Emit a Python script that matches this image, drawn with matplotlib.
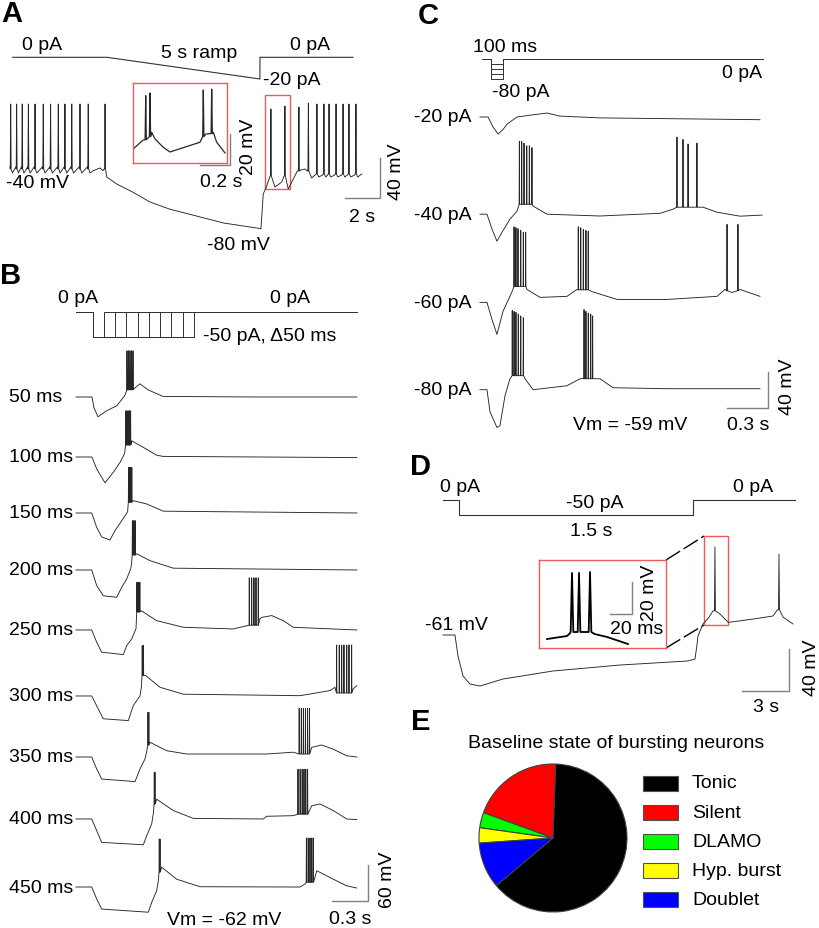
import numpy as np
import matplotlib
matplotlib.use('Agg')
import matplotlib.pyplot as plt
from matplotlib.patches import Rectangle

plt.rcParams['font.family'] = ['Liberation Sans', 'DejaVu Sans']
plt.rcParams['font.size'] = 14

# ---------------- data (s, mV, pA) ----------------
# A: 5 s ramp, tonic firing -> rebound
A_stim_t = [0, 3.08, 8.08, 8.08, 11.12]
A_stim_i = [0, 0, -20, 0, 0]
A_left_spikes = [0.04, 0.38, 0.70, 1.05, 1.43, 1.90, 2.32, 2.76, 3.14, 3.53, 4.0, 4.47]
A_ramp = [(4.57, -44), (4.76, -41.7), (5.14, -39), (5.31, -41.7), (5.38, -40),
          (5.53, -48), (6.1, -55), (7.0, -63), (8.0, -73), (9.1, -80), (10.86, -88),
          (12.2, -94), (13.7, -98), (14.29, -99.5), (14.34, -100), (14.47, -65),
          (14.67, -57), (14.86, -47), (15.14, -58), (15.53, -53), (15.66, -47),
          (15.9, -60), (16.19, -50), (16.42, -42), (16.61, -41), (16.86, -40),
          (16.99, -42), (17.24, -49)]
A_single = [5.43, 14.91, 15.71, 16.51, 17.05]
A_single_peak = [25, 20, 23, 22, 26]
A_single_lo = [-40, -47, -47, -42, -42]
A_right_spikes = [17.54, 17.94, 18.23, 18.63, 19.03, 19.37, 19.77]
A_inset = [(0.0067, 9.5), (0.0667, 14.8), (0.1, 16.1), (0.1247, 19.8), (0.1467, 15.5),
           (0.202, 10.1), (0.2467, 7.1), (0.4467, 13.4), (0.46, 16.1), (0.4867, 18.7),
           (0.5353, 19.8), (0.558, 13.4), (0.6133, 6.5)]
A_inset_spikes = [([0.0847], 43.4, 15), ([0.1133], 45.2, 17),
                  ([0.4687], 47.1, 17), ([0.5247], 47.7, 19)]

# B: -50 pA steps of increasing duration
B_durations = [0.05, 0.10, 0.15, 0.20, 0.25, 0.30, 0.35, 0.40, 0.45]
B_labels = ['50 ms', '100 ms', '150 ms', '200 ms', '250 ms', '300 ms', '350 ms', '400 ms', '450 ms']
B_offsets = [0, -100, -193.3, -288.3, -388.3, -498.3, -600, -703.3, -816.7]
B_paths = [
    [(0, 0), (0.133, 0), (0.150, -18), (0.183, -33), (0.255, -23), (0.34, -14.5), (0.405, 2),
     (0.418, 8), (0.485, 14), (0.533, 22), (0.6, 12), (0.725, 1), (1.5, 0), (2.34, 0)],
    [(0, 0), (0.133, 0), (0.1725, -20), (0.2417, -43), (0.311, -25.5), (0.367, -9), (0.405, 6),
     (0.464, 27), (0.561, 16), (0.6725, 3), (0.725, 1), (2.34, -1)],
    [(0, 0), (0.131, 0), (0.1725, -24), (0.214, -40), (0.283, -45), (0.325, -29.5), (0.381, -13),
     (0.43, 2), (0.4775, 20.5), (0.589, 15), (0.7275, 3), (2.34, 0)],
    [(0, 0), (0.131, 0), (0.1725, -26), (0.2275, -43), (0.339, -45.5), (0.381, -29), (0.4225, -15),
     (0.456, 2), (0.463, 10), (0.506, 27), (0.617, 15.5), (0.811, 3), (2.34, 0)],
    [(0, 0), (0.131, 0), (0.1725, -20.5), (0.214, -37), (0.394, -41), (0.4225, -26), (0.464, -15),
     (0.5, 2), (0.545, 32), (0.6725, 15.5), (0.894, 4.5), (1.311, 1.7), (1.4225, 7), (1.53, 18),
     (1.5475, 21), (1.631, 24), (1.7275, 15.5), (1.811, 4.5), (2.34, 0)],
    [(0, 0), (0.131, 0), (0.186, -21.7), (0.2275, -38), (0.436, -41), (0.4775, -16), (0.533, 0),
     (0.545, 15), (0.581, 34), (0.7, 14.5), (0.894, 3), (1.867, 0.5), (2.117, 9), (2.158, 14.5),
     (2.31, 12), (2.34, 17)],
    [(0, 0), (0.131, 0), (0.1725, -20), (0.214, -36.7), (0.492, -41), (0.533, -20), (0.575, -3.3),
     (0.59, 10), (0.617, 24.5), (0.756, 10.5), (0.922, 5), (1.589, 5), (1.811, 8), (1.964, 16),
     (2.0475, 20), (2.144, 13), (2.256, 2), (2.34, 0)],
    [(0, 0), (0.131, 0), (0.1725, -19.5), (0.214, -39), (0.561, -43), (0.589, -28), (0.631, -8),
     (0.645, 10), (0.6725, 33), (0.811, 14), (0.978, 1), (1.561, 0), (1.589, 4.5), (1.811, 5.5),
     (1.964, 22), (2.033, 25), (2.144, 14), (2.256, 0), (2.34, -1)],
    [(0, 0), (0.131, 0), (0.1725, -20), (0.214, -36.7), (0.6025, -42), (0.631, -25.5), (0.6725, -6),
     (0.686, 10), (0.714, 33), (0.839, 13), (1.033, 0.5), (1.867, 0), (1.908, 5), (2.006, 27),
     (2.033, 24.5), (2.144, 13), (2.256, 2), (2.34, -1.7)],
]
B_bursts = [
    [([0.425, 0.4375, 0.45, 0.4625, 0.475], 77, 12)],
    [([0.415, 0.425, 0.435, 0.445, 0.455], 77, 20)],
    [([0.438, 0.447, 0.456, 0.465], 76, 18)],
    [([0.47, 0.478, 0.486, 0.494], 82, 25)],
    [([0.508, 0.516, 0.524, 0.532], 79.5, 30), ([1.444, 1.464, 1.483, 1.5, 1.519], 87, 8)],
    [([0.552, 0.562], 84, 34), ([2.172, 2.194, 2.214, 2.233, 2.256, 2.275, 2.297], 85, 5)],
    [([0.6, 0.607], 74.5, 20), ([1.86, 1.878, 1.895, 1.912, 1.93, 1.946], 81, 5)],
    [([0.6525, 0.658], 78, 25), ([1.85, 1.868, 1.885, 1.9, 1.915, 1.93], 83, 8)],
    [([0.694, 0.70], 80, 25), ([1.92, 1.935, 1.95, 1.965, 1.978], 81.7, 8)],
]

# C: 100 ms steps, -20..-80 pA
C_amps = [-20, -40, -60, -80]
C_labels = ['-20 pA', '-40 pA', '-60 pA', '-80 pA']
C_offsets = [0, -108, -206, -303]
C_paths = [
    [(0, 0), (0.0585, 0), (0.095, -11), (0.132, -19), (0.168, -14), (0.1975, -8), (0.27, 0),
     (0.366, 2), (0.49, 4.4), (0.585, 1), (0.878, -1), (1.463, -2), (2.048, -3)],
    [(0, 0), (0.051, 0), (0.088, -16.7), (0.124, -30), (0.161, -20), (0.219, -5.6), (0.27, 3.3),
     (0.28, 8), (0.388, 9), (0.49, 0), (0.878, -2), (1.317, 1), (1.412, 5.6), (1.43, 7),
     (1.631, 7.8), (1.734, 2.2), (1.902, -2.2), (2.063, -1)],
    [(0, 0), (0.051, 0), (0.088, -19), (0.124, -35.6), (0.168, -10), (0.219, 6.7), (0.24, 14),
     (0.344, 14.4), (0.439, 5.6), (0.636, 6.7), (0.71, 14.4), (0.819, 12), (1.002, 3.3),
     (1.368, 3.3), (1.734, 6.7), (1.792, 14.4), (1.843, 11), (1.902, 14.4), (2.048, 6.7)],
    [(0, 0), (0.051, 0), (0.073, -24.4), (0.124, -42), (0.146, -40), (0.183, -6.7), (0.219, 12.2),
     (0.229, 14), (0.329, 12.2), (0.388, 0), (0.636, 4.4), (0.732, 12.2), (0.75, 12.5),
     (0.878, 12.2), (0.973, 2.2), (1.368, 1.1), (2.048, 1.1)],
]
C_bursts = [
    [],
    [([0.288, 0.305, 0.322, 0.342, 0.361, 0.38], [81, 81, 79, 76, 76, 74], 11),
     ([1.441, 1.485, 1.522, 1.587], [85.6, 83, 78, 79], 7.8)],
    [([0.249, 0.263, 0.278, 0.298, 0.317, 0.334], [84, 83, 82, 80, 78, 78], 17.8),
     ([0.719, 0.737, 0.756, 0.775, 0.792], [84, 83, 81, 80, 79], 14),
     ([1.807, 1.887], 86.7, 13)],
    [([0.236, 0.249, 0.263, 0.28, 0.298, 0.317], [88, 87, 86, 84, 82, 80], 15.6),
     ([0.761, 0.775, 0.792, 0.81, 0.824], [89, 87, 85, 84, 82], 12.2)],
]

# D: 1.5 s, -50 pA step -> rebound doublet
D_stim_t = [0, 0.1026, 0.1026, 1.6026, 1.6026, 2.256]
D_stim_i = [0, 0, -50, -50, 0, 0]
D_path = [(0, -61), (0.764, -61), (0.955, -81), (1.274, -100), (1.72, -107.7), (2.357, -109.6),
          (3.82, -102.9), (7.0, -95.3), (11.27, -89.6), (15.54, -85.8), (16.05, -84),
          (16.18, -70), (16.24, -62), (16.56, -50.5), (16.9, -45), (17.2, -38), (17.64, -41),
          (18.17, -49), (19.75, -45.8), (21.02, -42.9), (21.3, -37), (21.53, -40),
          (21.66, -44), (22.29, -50.5)]
D_spikes = [([17.32], 22.8, -38), ([21.4], 16.1, -37)]
D_inset = [(0.0073, 5.6), (0.0255, 7.5), (0.0284, 9.4), (0.0335, 10), (0.0395, 10),
           (0.0505, 8.75), (0.0618, 6.9), (0.0809, 2.5)]
D_inset_spikes = [([0.03, 0.0364, 0.0464], [46.9, 46.9, 47.5], 10)]

# E: baseline state of bursting neurons (n = 30)
E_labels = ['Tonic', 'Silent', 'DLAMO', 'Hyp. burst', 'Doublet']
E_counts = [19, 6, 1, 1, 3]
E_colors = ['#000000', '#ff0000', '#00ff00', '#ffff00', '#0000ff']

# ---------------- drawing ----------------
W, H = 820, 929
fig = plt.figure(figsize=(8.2, 9.29), dpi=100)
TRACE = '#262626'
BAR = '#808080'
RED = '#f05a5a'
LW = 0.65


def layer(origin_px, sx, sy, origin_val=(0.0, 0.0)):
    # transparent full-figure axes, sx/sy = pixels per data unit
    ox, oy = origin_px
    t0, v0 = origin_val
    ax = fig.add_axes([0, 0, 1, 1])
    ax.set_xlim(t0 - ox / sx, t0 + (W - ox) / sx)
    ax.set_ylim(v0 - (H - oy) / sy, v0 + oy / sy)
    ax.axis('off')
    return ax


def boxed(box, xlim, ylim):
    x0, y0, x1, y1 = box
    ax = fig.add_axes([x0 / W, 1 - y1 / H, (x1 - x0) / W, (y1 - y0) / H])
    ax.set_xlim(xlim)
    ax.set_ylim(ylim)
    ax.set_xticks([])
    ax.set_yticks([])
    for s in ax.spines.values():
        s.set_color(RED)
        s.set_linewidth(1.0)
    ax.patch.set_alpha(0)
    return ax


def trace(path, bursts=(), w=0.004):
    pts = list(path)
    for times, peak, lo in bursts:
        los = np.broadcast_to(lo, len(times))
        for ts, pk, l in zip(times, np.broadcast_to(peak, len(times)), los):
            pts += [(ts - w, l), (ts, pk), (ts + w, l)]
    pts.sort()
    t, v = np.array(pts).T
    return t, v


def scalebar(ax, x, y, dx, dy):
    ax.plot([x - dx, x, x], [y, y, y + dy], color=BAR, lw=1.0, clip_on=False)


px = layer((0, 0), 1, -1)


def label(x, y, s, **kw):
    kw.setdefault('va', 'center')
    px.text(x, y, s, **kw)


# ----- A -----
axs = layer((12.7, 58.3), 30.6, 1.085)
axs.plot(A_stim_t, A_stim_i, color='#333333', lw=0.8)

axA = layer((10, 170), 17.5, 1.0, (0, -40))
pathA = [(0, -38)]
for a, b in zip(A_left_spikes[:-1], A_left_spikes[1:]):
    pathA += [(a + 0.1, -44), (b - 0.05, -38)]
pathA += A_ramp
for a, b in zip(A_right_spikes[:-1], A_right_spikes[1:]):
    pathA += [(a - 0.05, -45), (a + 0.1, -48), (b - 0.08, -46)]
pathA += [(A_right_spikes[-1] - 0.05, -45), (A_right_spikes[-1] + 0.1, -48), (20.1, -45)]
burstsA = [(A_left_spikes, 25, -40)]
burstsA += [([t], p, l) for t, p, l in zip(A_single, A_single_peak, A_single_lo)]
burstsA += [(A_right_spikes, 25, -45)]
tA, vA = trace(pathA, burstsA, w=0.025)
axA.plot(tA, vA, color=TRACE, lw=LW)
axA.add_patch(Rectangle((14.57, -60), 1.43, 94, fill=False, ec=RED, lw=1.0))
scalebar(axA, 21.14, -69, 2, 40)

insA = boxed((133, 84, 227, 164), (0, 0.6267), (0, 51.6))
tI, vI = trace(A_inset, A_inset_spikes, w=0.004)
insA.plot(tI, vI, color=TRACE, lw=0.9)
scalebar(insA, 0.6467, -1.3, 0.2, 20)

label(12, 14, 'A', fontsize=21, fontweight='bold', ha='center')
label(22, 45, '0 pA')
label(199, 53, '5 s ramp', ha='center')
label(290, 45, '0 pA')
label(263, 80, '-20 pA')
label(6, 183, '-40 mV')
label(207, 245, '-80 mV')
label(200, 182, '0.2 s')
label(249, 147, '20 mV', rotation=90, ha='center')
label(362, 217, '2 s', ha='center')
label(397, 172, '40 mV', rotation=90, ha='center')

# ----- B -----
axBs = layer((76, 313), 225, 0.5)
onB, endB = 0.0744, 1.249
for d in B_durations:
    axBs.plot([0, onB, onB, onB + d, onB + d, endB], [0, 0, -50, -50, 0, 0],
              color='#333333', lw=0.7)

axB = layer((76, 398), 120, 0.6)
for path, bursts, off, lab in zip(B_paths, B_bursts, B_offsets, B_labels):
    t, v = trace(path, bursts, w=0.0018)
    axB.plot(t, v + off, color=TRACE, lw=LW)
    axB.text(-0.558, off, lab, ha='left', va='center')
scalebar(axB, 2.433, -840, 0.3, 60)

label(11, 276, 'B', fontsize=21, fontweight='bold', ha='center')
label(58, 298, '0 pA')
label(270, 298, '0 pA')
label(203, 336, '-50 pA, \u039450 ms')
label(167, 921, 'Vm = -62 mV')
label(350, 920, '0.3 s', ha='center')
label(388, 880, '60 mV', rotation=90, ha='center')

# ----- C -----
axCs = layer((482, 60), 120, 0.25)
onC, endC = 0.075, 2.342
for a in C_amps:
    axCs.plot([0, onC, onC, onC + 0.1, onC + 0.1, endC], [0, 0, a, a, 0, 0],
              color='#333333', lw=0.7)

axC = layer((480, 118), 136.7, 0.9)
for path, bursts, off, lab in zip(C_paths, C_bursts, C_offsets, C_labels):
    t, v = trace(path, bursts, w=0.0016)
    axC.plot(t, v + off, color=TRACE, lw=LW)
    axC.text(-0.48, off, lab, ha='left', va='center')
scalebar(axC, 2.107, -323.3, 0.3, 40)

label(428, 16, 'C', fontsize=21, fontweight='bold', ha='center')
label(473, 47, '100 ms')
label(492, 92, '-80 pA')
label(762, 73, '0 pA', ha='right')
label(573, 425, 'Vm = -59 mV')
label(748, 425, '0.3 s', ha='center')
label(788, 387, '40 mV', rotation=90, ha='center')

# ----- D -----
axDs = layer((443, 501), 156, 0.3)
axDs.plot(D_stim_t, D_stim_i, color='#333333', lw=0.8)

axD = layer((443, 636), 15.7, 1.05, (0, -61))
tD, vD = trace(D_path, D_spikes, w=0.03)
axD.plot(tD, vD, color=TRACE, lw=LW)
axD.add_patch(Rectangle((16.62, -51.5), 1.53, 84.8, fill=False, ec=RED, lw=1.0))
scalebar(axD, 22.04, -114.3, 3, 40)

insD = boxed((539, 561, 666, 649), (0, 0.1155), (0, 55))
tI, vI = trace(D_inset, D_inset_spikes, w=0.0012)
insD.plot(tI, vI, color='black', lw=1.3)
scalebar(insD, 0.0845, 21.25, 0.02, 20)

px.plot([666, 704], [561, 537], color='black', lw=1.0, ls=(0, (12, 3)))
px.plot([666, 704], [649, 626], color='black', lw=1.0, ls=(0, (12, 3)))

label(421, 467, 'D', fontsize=21, fontweight='bold', ha='center')
label(440, 487, '0 pA')
label(595, 503, '-50 pA', ha='center')
label(591, 532, '1.5 s', ha='center')
label(733, 487, '0 pA')
label(425, 625, '-61 mV')
label(650, 593, '20 mV', rotation=90, ha='center')
label(637, 630, '20 ms', ha='center')
label(766, 707, '3 s', ha='center')
label(812, 668, '40 mV', rotation=90, ha='center')

# ----- E -----
cx, cy, r = 553, 839, 74
pad = 1.05
axE = fig.add_axes([(cx - r * pad) / W, 1 - (cy + r * pad) / H, 2 * r * pad / W, 2 * r * pad / H])
axE.pie(E_counts, colors=E_colors, startangle=220, counterclock=True,
        wedgeprops=dict(edgecolor='#404040', linewidth=0.8))
axE.set_xlim(-pad, pad)
axE.set_ylim(-pad, pad)
axE.set_aspect('equal')

label(421, 722, 'E', fontsize=21, fontweight='bold', ha='center')
label(616, 743, 'Baseline state of bursting neurons', ha='center')
for i, (lab, col) in enumerate(zip(E_labels, E_colors)):
    yc = 784 + i * 29.2
    px.add_patch(Rectangle((643, yc - 7.5), 35, 15, fc=col, ec='#505050', lw=0.8))
    label(692, yc, lab)

fig.savefig('out.png', dpi=100)
